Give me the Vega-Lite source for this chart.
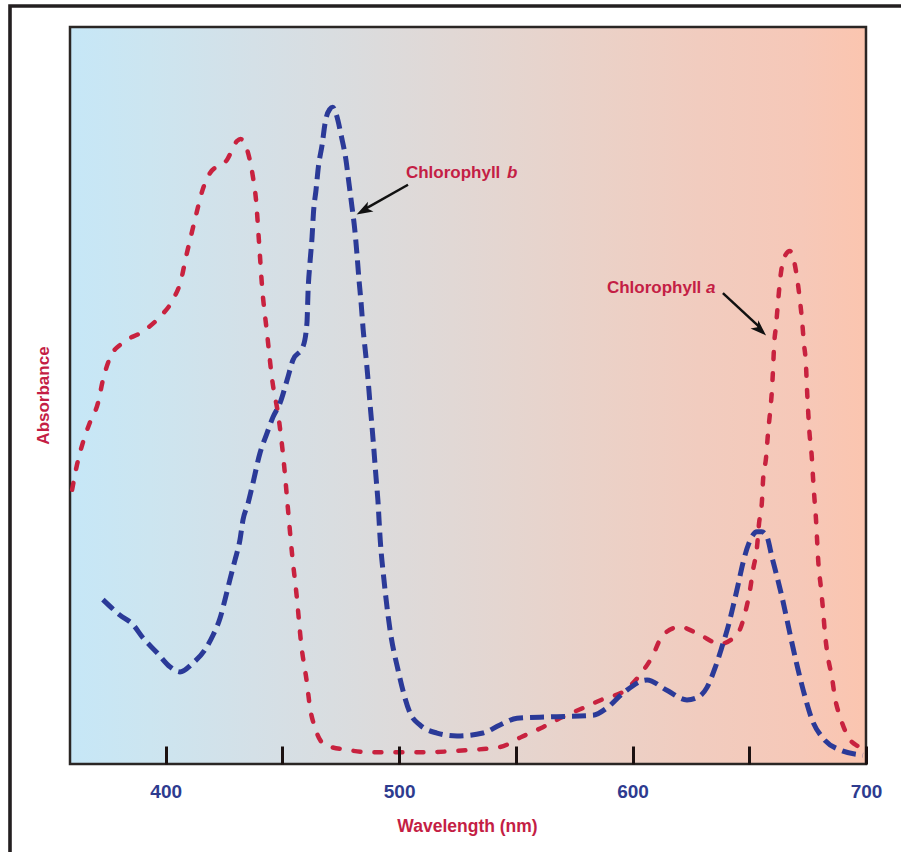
{
  "$schema": "https://vega.github.io/schema/vega-lite/v6.json",
  "width": 895,
  "height": 856,
  "autosize": {"type": "none"},
  "padding": {"left": 10, "top": 6, "right": -4, "bottom": -10},
  "background": "white",
  "config": {
    "view": {"stroke": "#231f20", "strokeWidth": 3.6},
    "font": "Liberation Sans"
  },
  "datasets": {
    "curves": [
      {"pigment": "Chlorophyll a", "wl": 359.9, "abs": 37.2},
      {"pigment": "Chlorophyll a", "wl": 362.0, "abs": 40.6},
      {"pigment": "Chlorophyll a", "wl": 364.6, "abs": 43.7},
      {"pigment": "Chlorophyll a", "wl": 367.6, "abs": 46.4},
      {"pigment": "Chlorophyll a", "wl": 371.0, "abs": 49.0},
      {"pigment": "Chlorophyll a", "wl": 373.1, "abs": 52.1},
      {"pigment": "Chlorophyll a", "wl": 376.1, "abs": 55.1},
      {"pigment": "Chlorophyll a", "wl": 381.3, "abs": 57.1},
      {"pigment": "Chlorophyll a", "wl": 389.8, "abs": 58.6},
      {"pigment": "Chlorophyll a", "wl": 397.6, "abs": 60.7},
      {"pigment": "Chlorophyll a", "wl": 403.1, "abs": 63.0},
      {"pigment": "Chlorophyll a", "wl": 406.6, "abs": 65.7},
      {"pigment": "Chlorophyll a", "wl": 408.7, "abs": 68.8},
      {"pigment": "Chlorophyll a", "wl": 410.8, "abs": 71.6},
      {"pigment": "Chlorophyll a", "wl": 413.0, "abs": 74.5},
      {"pigment": "Chlorophyll a", "wl": 415.5, "abs": 77.6},
      {"pigment": "Chlorophyll a", "wl": 419.0, "abs": 80.2},
      {"pigment": "Chlorophyll a", "wl": 426.3, "abs": 82.0},
      {"pigment": "Chlorophyll a", "wl": 430.5, "abs": 84.5},
      {"pigment": "Chlorophyll a", "wl": 432.0, "abs": 84.8},
      {"pigment": "Chlorophyll a", "wl": 435.3, "abs": 82.9},
      {"pigment": "Chlorophyll a", "wl": 437.4, "abs": 79.6},
      {"pigment": "Chlorophyll a", "wl": 438.7, "abs": 76.5},
      {"pigment": "Chlorophyll a", "wl": 440.0, "abs": 70.7},
      {"pigment": "Chlorophyll a", "wl": 441.3, "abs": 64.7},
      {"pigment": "Chlorophyll a", "wl": 443.4, "abs": 58.5},
      {"pigment": "Chlorophyll a", "wl": 445.5, "abs": 52.4},
      {"pigment": "Chlorophyll a", "wl": 448.5, "abs": 46.7},
      {"pigment": "Chlorophyll a", "wl": 450.7, "abs": 40.6},
      {"pigment": "Chlorophyll a", "wl": 452.4, "abs": 34.5},
      {"pigment": "Chlorophyll a", "wl": 454.1, "abs": 28.6},
      {"pigment": "Chlorophyll a", "wl": 456.2, "abs": 22.5},
      {"pigment": "Chlorophyll a", "wl": 458.0, "abs": 16.4},
      {"pigment": "Chlorophyll a", "wl": 460.5, "abs": 11.0},
      {"pigment": "Chlorophyll a", "wl": 461.8, "abs": 7.7},
      {"pigment": "Chlorophyll a", "wl": 464.0, "abs": 4.9},
      {"pigment": "Chlorophyll a", "wl": 468.2, "abs": 2.6},
      {"pigment": "Chlorophyll a", "wl": 478.1, "abs": 1.9},
      {"pigment": "Chlorophyll a", "wl": 486.7, "abs": 1.6},
      {"pigment": "Chlorophyll a", "wl": 509.0, "abs": 1.6},
      {"pigment": "Chlorophyll a", "wl": 530.4, "abs": 1.9},
      {"pigment": "Chlorophyll a", "wl": 543.2, "abs": 2.3},
      {"pigment": "Chlorophyll a", "wl": 552.6, "abs": 3.7},
      {"pigment": "Chlorophyll a", "wl": 561.6, "abs": 5.0},
      {"pigment": "Chlorophyll a", "wl": 570.2, "abs": 6.4},
      {"pigment": "Chlorophyll a", "wl": 578.8, "abs": 7.6},
      {"pigment": "Chlorophyll a", "wl": 587.3, "abs": 8.8},
      {"pigment": "Chlorophyll a", "wl": 596.8, "abs": 10.0},
      {"pigment": "Chlorophyll a", "wl": 603.2, "abs": 12.1},
      {"pigment": "Chlorophyll a", "wl": 608.3, "abs": 14.5},
      {"pigment": "Chlorophyll a", "wl": 613.0, "abs": 17.5},
      {"pigment": "Chlorophyll a", "wl": 620.3, "abs": 18.6},
      {"pigment": "Chlorophyll a", "wl": 628.9, "abs": 17.5},
      {"pigment": "Chlorophyll a", "wl": 637.5, "abs": 16.3},
      {"pigment": "Chlorophyll a", "wl": 645.2, "abs": 17.8},
      {"pigment": "Chlorophyll a", "wl": 648.2, "abs": 20.5},
      {"pigment": "Chlorophyll a", "wl": 650.3, "abs": 23.6},
      {"pigment": "Chlorophyll a", "wl": 651.6, "abs": 26.3},
      {"pigment": "Chlorophyll a", "wl": 653.3, "abs": 29.4},
      {"pigment": "Chlorophyll a", "wl": 654.2, "abs": 32.7},
      {"pigment": "Chlorophyll a", "wl": 655.4, "abs": 35.5},
      {"pigment": "Chlorophyll a", "wl": 655.9, "abs": 38.5},
      {"pigment": "Chlorophyll a", "wl": 657.2, "abs": 41.6},
      {"pigment": "Chlorophyll a", "wl": 658.0, "abs": 44.8},
      {"pigment": "Chlorophyll a", "wl": 658.9, "abs": 47.7},
      {"pigment": "Chlorophyll a", "wl": 659.7, "abs": 50.7},
      {"pigment": "Chlorophyll a", "wl": 660.2, "abs": 53.7},
      {"pigment": "Chlorophyll a", "wl": 660.6, "abs": 56.6},
      {"pigment": "Chlorophyll a", "wl": 661.5, "abs": 59.6},
      {"pigment": "Chlorophyll a", "wl": 662.3, "abs": 62.6},
      {"pigment": "Chlorophyll a", "wl": 663.2, "abs": 65.7},
      {"pigment": "Chlorophyll a", "wl": 664.9, "abs": 68.7},
      {"pigment": "Chlorophyll a", "wl": 667.4, "abs": 69.6},
      {"pigment": "Chlorophyll a", "wl": 670.4, "abs": 66.1},
      {"pigment": "Chlorophyll a", "wl": 671.7, "abs": 62.9},
      {"pigment": "Chlorophyll a", "wl": 672.6, "abs": 60.2},
      {"pigment": "Chlorophyll a", "wl": 673.4, "abs": 57.1},
      {"pigment": "Chlorophyll a", "wl": 674.3, "abs": 54.1},
      {"pigment": "Chlorophyll a", "wl": 674.7, "abs": 51.1},
      {"pigment": "Chlorophyll a", "wl": 675.2, "abs": 48.0},
      {"pigment": "Chlorophyll a", "wl": 675.8, "abs": 44.9},
      {"pigment": "Chlorophyll a", "wl": 676.7, "abs": 42.0},
      {"pigment": "Chlorophyll a", "wl": 677.3, "abs": 38.9},
      {"pigment": "Chlorophyll a", "wl": 677.9, "abs": 36.1},
      {"pigment": "Chlorophyll a", "wl": 678.6, "abs": 33.1},
      {"pigment": "Chlorophyll a", "wl": 679.0, "abs": 30.7},
      {"pigment": "Chlorophyll a", "wl": 679.6, "abs": 27.3},
      {"pigment": "Chlorophyll a", "wl": 680.7, "abs": 23.9},
      {"pigment": "Chlorophyll a", "wl": 681.6, "abs": 20.9},
      {"pigment": "Chlorophyll a", "wl": 682.4, "abs": 17.8},
      {"pigment": "Chlorophyll a", "wl": 683.7, "abs": 14.5},
      {"pigment": "Chlorophyll a", "wl": 685.4, "abs": 11.8},
      {"pigment": "Chlorophyll a", "wl": 686.7, "abs": 9.0},
      {"pigment": "Chlorophyll a", "wl": 688.9, "abs": 6.4},
      {"pigment": "Chlorophyll a", "wl": 692.3, "abs": 3.7},
      {"pigment": "Chlorophyll a", "wl": 697.4, "abs": 2.2},
      {"pigment": "Chlorophyll a", "wl": 699.6, "abs": 1.6},
      {"pigment": "Chlorophyll b", "wl": 373.1, "abs": 22.3},
      {"pigment": "Chlorophyll b", "wl": 380.4, "abs": 20.2},
      {"pigment": "Chlorophyll b", "wl": 386.0, "abs": 18.9},
      {"pigment": "Chlorophyll b", "wl": 390.3, "abs": 17.1},
      {"pigment": "Chlorophyll b", "wl": 396.3, "abs": 15.1},
      {"pigment": "Chlorophyll b", "wl": 401.8, "abs": 13.2},
      {"pigment": "Chlorophyll b", "wl": 406.1, "abs": 12.5},
      {"pigment": "Chlorophyll b", "wl": 411.7, "abs": 13.7},
      {"pigment": "Chlorophyll b", "wl": 416.8, "abs": 15.5},
      {"pigment": "Chlorophyll b", "wl": 420.3, "abs": 17.5},
      {"pigment": "Chlorophyll b", "wl": 423.3, "abs": 19.8},
      {"pigment": "Chlorophyll b", "wl": 425.4, "abs": 22.3},
      {"pigment": "Chlorophyll b", "wl": 427.5, "abs": 25.0},
      {"pigment": "Chlorophyll b", "wl": 429.7, "abs": 27.7},
      {"pigment": "Chlorophyll b", "wl": 431.8, "abs": 30.4},
      {"pigment": "Chlorophyll b", "wl": 433.1, "abs": 33.1},
      {"pigment": "Chlorophyll b", "wl": 435.3, "abs": 35.4},
      {"pigment": "Chlorophyll b", "wl": 437.0, "abs": 37.6},
      {"pigment": "Chlorophyll b", "wl": 440.4, "abs": 42.2},
      {"pigment": "Chlorophyll b", "wl": 443.4, "abs": 44.9},
      {"pigment": "Chlorophyll b", "wl": 446.0, "abs": 47.1},
      {"pigment": "Chlorophyll b", "wl": 449.0, "abs": 49.0},
      {"pigment": "Chlorophyll b", "wl": 452.0, "abs": 52.1},
      {"pigment": "Chlorophyll b", "wl": 454.5, "abs": 54.8},
      {"pigment": "Chlorophyll b", "wl": 458.8, "abs": 56.6},
      {"pigment": "Chlorophyll b", "wl": 460.5, "abs": 59.8},
      {"pigment": "Chlorophyll b", "wl": 461.0, "abs": 64.3},
      {"pigment": "Chlorophyll b", "wl": 461.8, "abs": 68.0},
      {"pigment": "Chlorophyll b", "wl": 462.7, "abs": 71.5},
      {"pigment": "Chlorophyll b", "wl": 463.3, "abs": 74.8},
      {"pigment": "Chlorophyll b", "wl": 464.4, "abs": 77.9},
      {"pigment": "Chlorophyll b", "wl": 465.4, "abs": 81.0},
      {"pigment": "Chlorophyll b", "wl": 467.0, "abs": 84.0},
      {"pigment": "Chlorophyll b", "wl": 468.3, "abs": 87.0},
      {"pigment": "Chlorophyll b", "wl": 470.2, "abs": 88.8},
      {"pigment": "Chlorophyll b", "wl": 471.6, "abs": 89.1},
      {"pigment": "Chlorophyll b", "wl": 473.0, "abs": 88.2},
      {"pigment": "Chlorophyll b", "wl": 475.3, "abs": 85.1},
      {"pigment": "Chlorophyll b", "wl": 477.2, "abs": 82.0},
      {"pigment": "Chlorophyll b", "wl": 478.5, "abs": 78.8},
      {"pigment": "Chlorophyll b", "wl": 479.8, "abs": 75.6},
      {"pigment": "Chlorophyll b", "wl": 481.0, "abs": 72.5},
      {"pigment": "Chlorophyll b", "wl": 481.9, "abs": 69.3},
      {"pigment": "Chlorophyll b", "wl": 482.8, "abs": 65.7},
      {"pigment": "Chlorophyll b", "wl": 483.7, "abs": 62.6},
      {"pigment": "Chlorophyll b", "wl": 484.6, "abs": 58.9},
      {"pigment": "Chlorophyll b", "wl": 485.8, "abs": 55.2},
      {"pigment": "Chlorophyll b", "wl": 486.7, "abs": 52.1},
      {"pigment": "Chlorophyll b", "wl": 487.5, "abs": 49.0},
      {"pigment": "Chlorophyll b", "wl": 488.4, "abs": 45.7},
      {"pigment": "Chlorophyll b", "wl": 489.2, "abs": 42.6},
      {"pigment": "Chlorophyll b", "wl": 490.1, "abs": 38.9},
      {"pigment": "Chlorophyll b", "wl": 490.9, "abs": 35.8},
      {"pigment": "Chlorophyll b", "wl": 491.9, "abs": 30.4},
      {"pigment": "Chlorophyll b", "wl": 493.5, "abs": 25.0},
      {"pigment": "Chlorophyll b", "wl": 496.1, "abs": 18.2},
      {"pigment": "Chlorophyll b", "wl": 499.5, "abs": 12.8},
      {"pigment": "Chlorophyll b", "wl": 504.7, "abs": 6.9},
      {"pigment": "Chlorophyll b", "wl": 508.9, "abs": 5.3},
      {"pigment": "Chlorophyll b", "wl": 516.2, "abs": 4.2},
      {"pigment": "Chlorophyll b", "wl": 524.8, "abs": 3.8},
      {"pigment": "Chlorophyll b", "wl": 535.9, "abs": 4.2},
      {"pigment": "Chlorophyll b", "wl": 543.2, "abs": 5.3},
      {"pigment": "Chlorophyll b", "wl": 550.5, "abs": 6.2},
      {"pigment": "Chlorophyll b", "wl": 564.6, "abs": 6.4},
      {"pigment": "Chlorophyll b", "wl": 583.0, "abs": 6.6},
      {"pigment": "Chlorophyll b", "wl": 589.0, "abs": 7.6},
      {"pigment": "Chlorophyll b", "wl": 595.9, "abs": 9.6},
      {"pigment": "Chlorophyll b", "wl": 606.2, "abs": 11.4},
      {"pigment": "Chlorophyll b", "wl": 614.7, "abs": 10.0},
      {"pigment": "Chlorophyll b", "wl": 623.3, "abs": 8.7},
      {"pigment": "Chlorophyll b", "wl": 627.6, "abs": 9.0},
      {"pigment": "Chlorophyll b", "wl": 631.9, "abs": 10.4},
      {"pigment": "Chlorophyll b", "wl": 635.3, "abs": 13.0},
      {"pigment": "Chlorophyll b", "wl": 638.3, "abs": 15.9},
      {"pigment": "Chlorophyll b", "wl": 640.9, "abs": 18.6},
      {"pigment": "Chlorophyll b", "wl": 643.0, "abs": 21.3},
      {"pigment": "Chlorophyll b", "wl": 645.2, "abs": 24.3},
      {"pigment": "Chlorophyll b", "wl": 647.3, "abs": 27.3},
      {"pigment": "Chlorophyll b", "wl": 649.9, "abs": 30.0},
      {"pigment": "Chlorophyll b", "wl": 653.3, "abs": 31.5},
      {"pigment": "Chlorophyll b", "wl": 655.4, "abs": 31.5},
      {"pigment": "Chlorophyll b", "wl": 657.6, "abs": 30.8},
      {"pigment": "Chlorophyll b", "wl": 659.7, "abs": 28.1},
      {"pigment": "Chlorophyll b", "wl": 661.9, "abs": 25.4},
      {"pigment": "Chlorophyll b", "wl": 664.0, "abs": 22.7},
      {"pigment": "Chlorophyll b", "wl": 666.2, "abs": 19.5},
      {"pigment": "Chlorophyll b", "wl": 668.3, "abs": 16.4},
      {"pigment": "Chlorophyll b", "wl": 670.9, "abs": 12.8},
      {"pigment": "Chlorophyll b", "wl": 673.9, "abs": 9.1},
      {"pigment": "Chlorophyll b", "wl": 676.9, "abs": 6.0},
      {"pigment": "Chlorophyll b", "wl": 681.6, "abs": 3.5},
      {"pigment": "Chlorophyll b", "wl": 688.9, "abs": 1.9},
      {"pigment": "Chlorophyll b", "wl": 698.7, "abs": 1.2}
    ],
    "panel": [
      {"wl": 359, "wl2": 700, "abs": 0, "abs2": 100}
    ],
    "labels": [
      {"id": "b", "part": "name", "text": "Chlorophyll", "wl": 502.9, "abs": 79.47},
      {"id": "b", "part": "letter", "text": "b", "wl": 546.2, "abs": 79.47},
      {"id": "a", "part": "name", "text": "Chlorophyll", "wl": 589.0, "abs": 63.95},
      {"id": "a", "part": "letter", "text": "a", "wl": 631.5, "abs": 63.95}
    ],
    "arrows": [
      {"id": "b", "wl": 503.8, "abs": 78.6, "wl2": 485.3, "abs2": 75.3},
      {"id": "a", "wl": 638.7, "abs": 63.9, "wl2": 654.3, "abs2": 59.3}
    ],
    "heads": [
      {"id": "b", "wl": 484.8, "abs": 75.1},
      {"id": "a", "wl": 654.7, "abs": 58.9}
    ]
  },
  "encoding": {
    "x": {
      "field": "wl",
      "type": "quantitative",
      "scale": {"domain": [333.296, 716.711], "nice": false, "zero": false},
      "axis": {
        "title": "Wavelength (nm)",
        "orient": "bottom",
        "offset": -98,
        "zindex": 1,
        "values": [400, 450, 500, 550, 600, 650, 700],
        "format": "d",
        "labelExpr": "datum.value % 100 === 0 ? datum.label : ''",
        "domain": false,
        "grid": false,
        "ticks": true,
        "tickSize": -18,
        "tickWidth": 3,
        "tickColor": "#1b1111",
        "labelPadding": 36,
        "labelFont": "Liberation Sans",
        "labelFontSize": 19,
        "labelFontWeight": "bold",
        "labelColor": "#2e3b8f",
        "labelFlush": false,
        "labelOverlap": false,
        "titleFont": "Liberation Sans",
        "titleFontSize": 17.5,
        "titleFontWeight": "bold",
        "titleColor": "#c41e45",
        "titleX": 457,
        "titleY": 67.7,
        "titleBaseline": "alphabetic",
        "titleAlign": "center"
      }
    },
    "y": {
      "field": "abs",
      "type": "quantitative",
      "scale": {"domain": [-13.297, 102.849], "nice": false, "zero": false},
      "axis": {
        "title": "Absorbance",
        "orient": "left",
        "domain": false,
        "ticks": false,
        "labels": false,
        "grid": false,
        "titleX": 38.3,
        "titleY": 389,
        "titleBaseline": "alphabetic",
        "titleAlign": "center",
        "titleFont": "Liberation Sans",
        "titleFontSize": 17,
        "titleFontWeight": "bold",
        "titleColor": "#c41e45"
      }
    }
  },
  "layer": [
    {
      "data": {"name": "panel"},
      "mark": {
        "type": "rect",
        "color": {
          "gradient": "linear",
          "x1": 0, "y1": 0, "x2": 1, "y2": 0,
          "stops": [
            {"offset": 0, "color": "#c6e7f7"},
            {"offset": 0.1, "color": "#cce5f0"},
            {"offset": 0.23, "color": "#d4e0e7"},
            {"offset": 0.33, "color": "#d9dde0"},
            {"offset": 0.48, "color": "#e1d8d5"},
            {"offset": 0.67, "color": "#ebd1c7"},
            {"offset": 0.79, "color": "#f1ccbf"},
            {"offset": 0.92, "color": "#f6c8b8"},
            {"offset": 1, "color": "#fbc5af"}
          ]
        },
        "stroke": "#2a2624",
        "strokeWidth": 2.5,
        "opacity": 1,
        "fillOpacity": 1
      },
      "encoding": {
        "x2": {"field": "wl2"},
        "y2": {"field": "abs2"}
      }
    },
    {
      "data": {"name": "curves"},
      "transform": [{"filter": "datum.pigment === 'Chlorophyll a'"}],
      "mark": {"type": "line", "interpolate": "monotone", "color": "#c8223f", "strokeWidth": 4.5, "strokeDash": [7, 14], "strokeCap": "round"}
    },
    {
      "data": {"name": "curves"},
      "transform": [{"filter": "datum.pigment === 'Chlorophyll b'"}],
      "mark": {"type": "line", "interpolate": "monotone", "color": "#2b3a98", "strokeWidth": 5, "strokeDash": [14, 7], "strokeCap": "butt"}
    },
    {
      "data": {"name": "arrows"},
      "mark": {"type": "rule", "color": "#111111", "strokeWidth": 2.5},
      "encoding": {
        "x2": {"field": "wl2"},
        "y2": {"field": "abs2"}
      }
    },
    {
      "data": {"name": "heads"},
      "transform": [{"filter": "datum.id === 'b'"}],
      "mark": {"type": "point", "shape": "M0,-1L0.7,1L0,0.5L-0.7,1Z", "size": 260, "angle": 241, "filled": true, "color": "#111111", "opacity": 1}
    },
    {
      "data": {"name": "heads"},
      "transform": [{"filter": "datum.id === 'a'"}],
      "mark": {"type": "point", "shape": "M0,-1L0.7,1L0,0.5L-0.7,1Z", "size": 260, "angle": 133.6, "filled": true, "color": "#111111", "opacity": 1}
    },
    {
      "data": {"name": "labels"},
      "transform": [{"filter": "datum.part === 'name'"}],
      "mark": {"type": "text", "align": "left", "baseline": "alphabetic", "font": "Liberation Sans", "fontSize": 17, "fontWeight": "bold", "color": "#c41e45"},
      "encoding": {"text": {"field": "text"}}
    },
    {
      "data": {"name": "labels"},
      "transform": [{"filter": "datum.part === 'letter'"}],
      "mark": {"type": "text", "align": "left", "baseline": "alphabetic", "font": "Liberation Sans", "fontSize": 17, "fontWeight": "bold", "fontStyle": "italic", "color": "#c41e45"},
      "encoding": {"text": {"field": "text"}}
    }
  ]
}
